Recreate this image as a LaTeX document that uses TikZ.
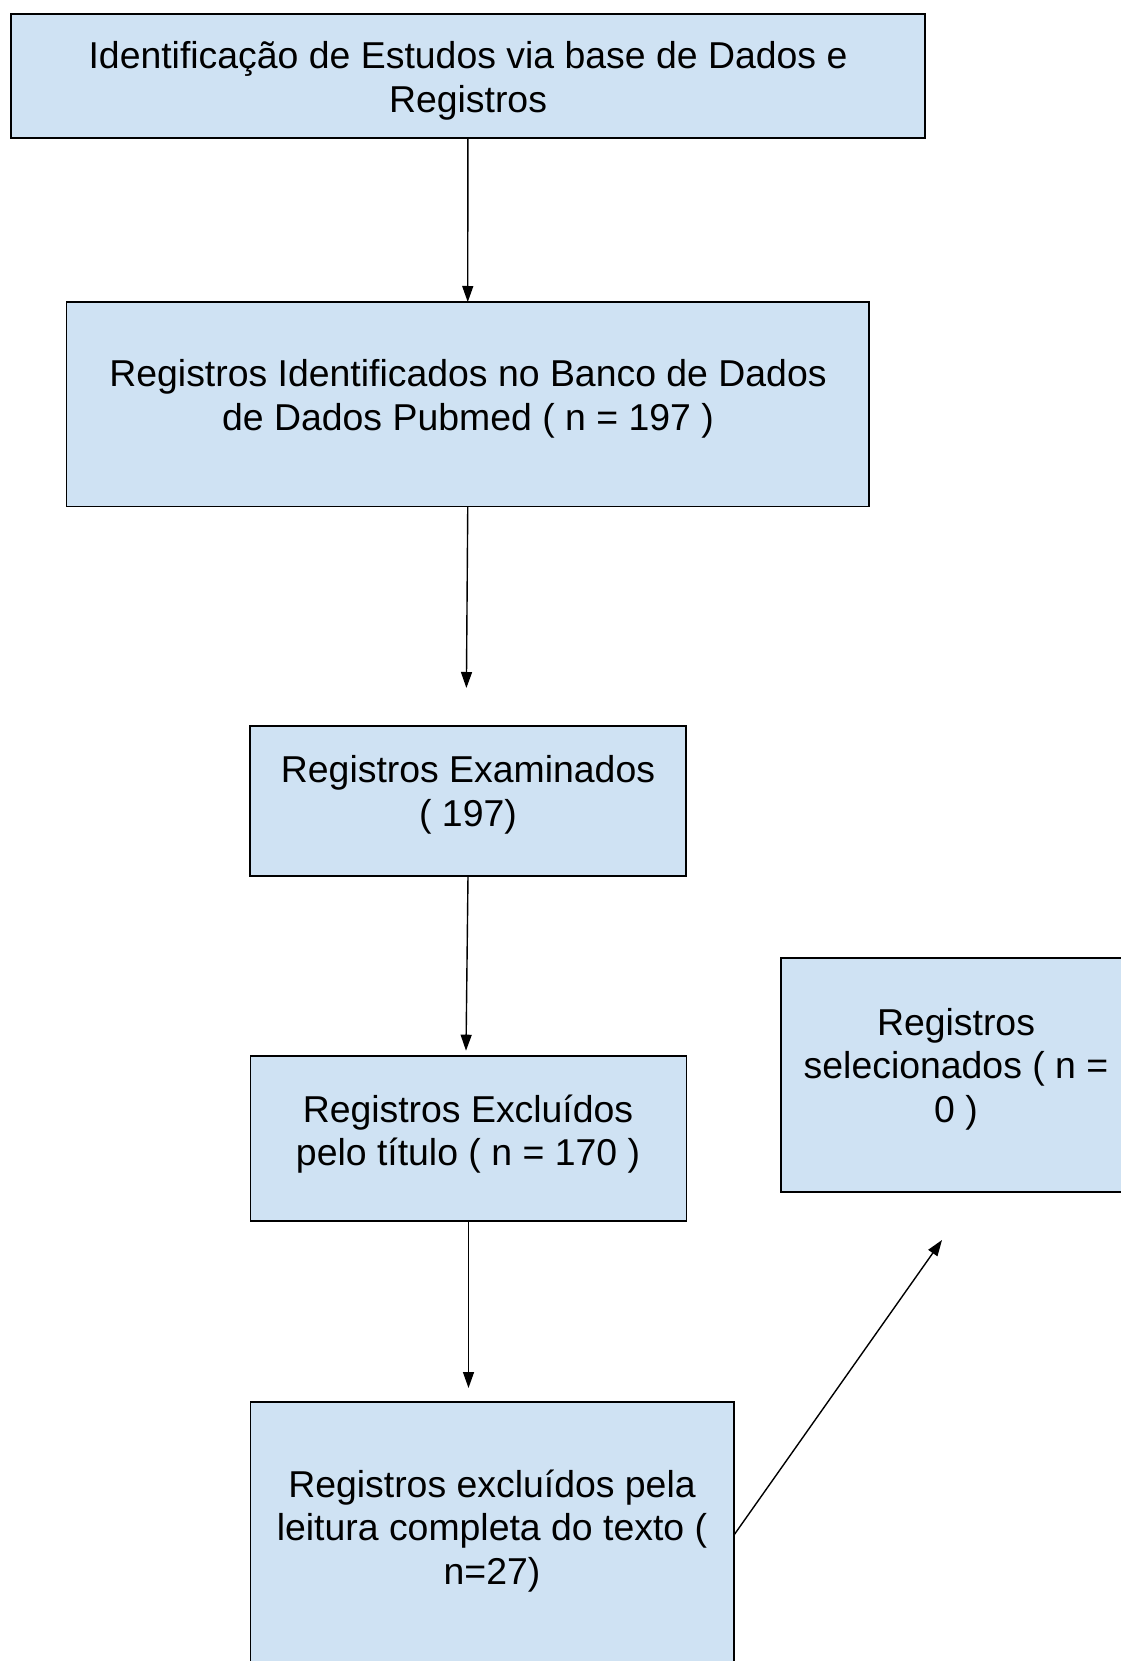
\documentclass[tikz,border=0pt]{standalone}
\usepackage{fontspec}
\setmainfont{Liberation Sans}
\usetikzlibrary{arrows.meta,calc}
\definecolor{boxblue}{HTML}{CFE2F3}
\begin{document}
\begin{tikzpicture}[x=1pt,y=-1pt,
 box/.style={draw=black, fill=boxblue, line width=1.8pt, inner sep=0pt, outer sep=0pt, anchor=north west},
 txt/.style={align=center, font=\fontsize{37.4}{43.5}\selectfont, inner sep=0pt},
 conn/.style={line width=1.4pt, -{Triangle[length=16pt,width=11pt]}}]
\useasboundingbox (0,0) rectangle (1120,1661);
\node[box, minimum width=914.3pt, minimum height=123.7pt] (b1) at (10.7,14) {};
\node[box, minimum width=802.5pt, minimum height=204.5pt] (b2) at (66.5,302) {};
\node[box, minimum width=436pt, minimum height=150pt] (b3) at (250,725.7) {};
\node[box, minimum width=436pt, minimum height=165pt] (b4) at (250.5,1056) {};
\node[box, minimum width=483.5pt, minimum height=320pt] (b5) at (250.5,1402) {};
\node[box, minimum width=350pt, minimum height=234pt] (b6) at (781,958) {};

\node[txt] (t1) at (468,81) {Identificação de Estudos via base de Dados e\\Registros};
\node[txt] (t2) at (468,399) {Registros Identificados no Banco de Dados\\de Dados Pubmed ( n = 197 )};
\node[txt] (t3) at (468,795) {Registros Examinados\\( 197)};
\node[txt] (t4) at (468,1134) {Registros Excluídos\\pelo título ( n = 170 )};
\node[txt] (t5) at (492,1531) {Registros excluídos pela\\leitura completa do texto (\\n=27)};
\node[txt] (t6) at (956,1069) {Registros\\selecionados ( n =\\0 )};

\coordinate (e2) at (466.4,688);
\coordinate (e3) at (466,1050.7);
\coordinate (e4) at (468.5,1388);
\coordinate (e5) at (942,1240);
\draw[conn] (b1.south) -- (b2.north);
\draw[conn] (b2.south) -- (e2);
\draw[conn] (b3.south) -- (e3);
\draw[conn] (b4.south) -- (e4);
\draw[conn] ($(b5.north east)+(0,133)$) -- (e5);
\end{tikzpicture}
\end{document}
